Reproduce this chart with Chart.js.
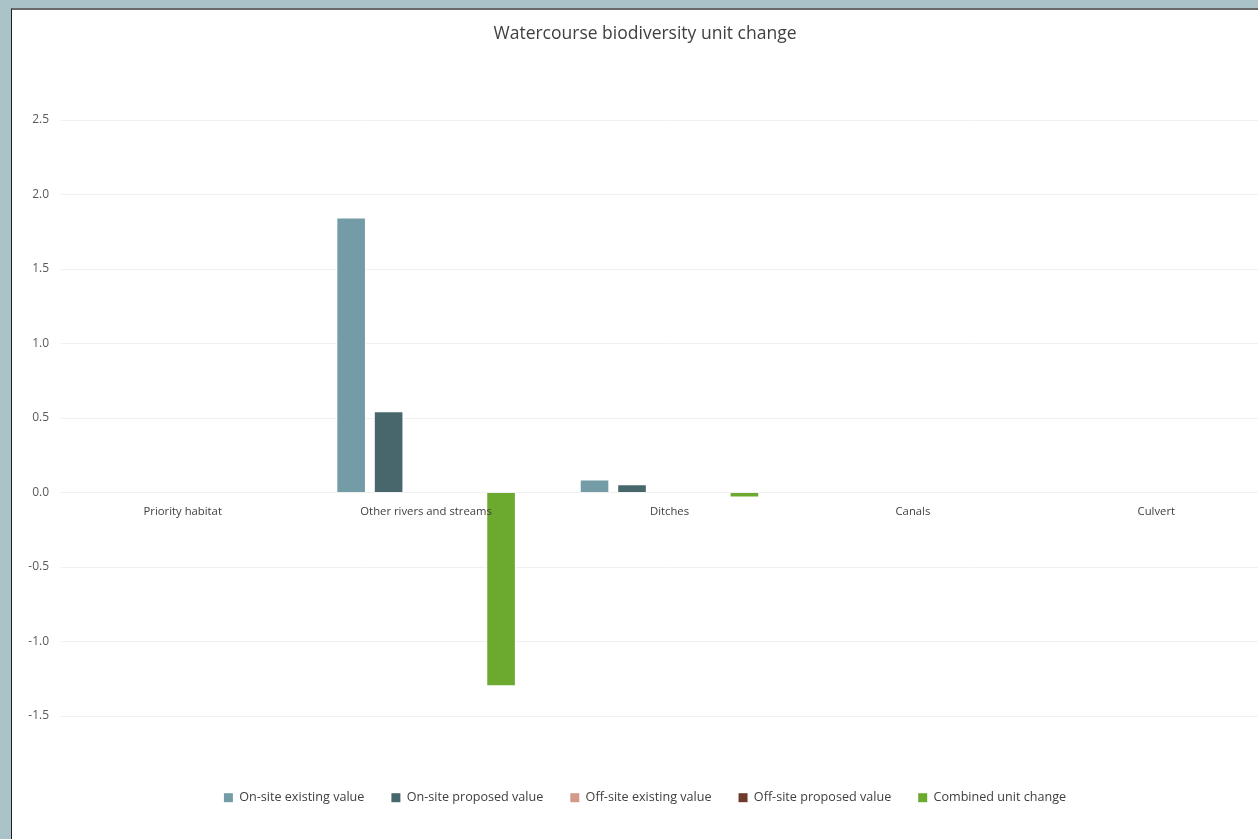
<!DOCTYPE html>
<html>
<head>
<meta charset="utf-8">
<script src="https://cdn.jsdelivr.net/npm/chart.js@4/dist/chart.umd.min.js"></script>
<style>
  html, body { margin: 0; padding: 0; overflow: hidden; background: #a9c3c9; width: 1258px; height: 839px; }
  #panel {
    position: absolute; left: 11px; top: 8px;
    width: 1300px; height: 860px;
    background: #fff;
    border-left: 1px solid #1e1e1e;
    border-top: 2px solid #6a6a6a;
  }
  #wrap { position: absolute; left: 0; top: 2px; width: 1274px; height: 828px; }
</style>
</head>
<body>
<div id="panel"><div id="wrap"><canvas id="chart"></canvas></div></div>
<script>
// Categories and series
const categories = ["Priority habitat", "Other rivers and streams", "Ditches", "Canals", "Culvert"];
const onsiteExisting = [0, 1.845, 0.088, 0, 0];
const onsiteProposed = [0, 0.545, 0.055, 0, 0];
const offsiteExisting = [0, 0, 0, 0, 0];
const offsiteProposed = [0, 0, 0, 0, 0];
const combinedChange = [0, -1.30, -0.033, 0, 0];
const yTicks = [-1.5, -1.0, -0.5, 0, 0.5, 1.0, 1.5, 2.0, 2.5];

const font = "'Open Sans', 'DejaVu Sans', sans-serif";

const makeSet = (label, data, color) => ({
    label: label,
    data: data,
    backgroundColor: color,
    borderColor: "rgba(255,255,255,0.7)",
    borderWidth: (ctx) => (ctx.raw === 0 ? 0 : 1),
    categoryPercentage: 0.77,
    barPercentage: 0.79,
});

const ctx = document.getElementById("chart");
new Chart(ctx, {
    type: "bar",
    data: {
        labels: categories,
        datasets: [
            makeSet("On-site existing value", onsiteExisting, "#739ca6"),
            makeSet("On-site proposed value", onsiteProposed, "#48676d"),
            makeSet("Off-site existing value", offsiteExisting, "#d4998a"),
            makeSet("Off-site proposed value", offsiteProposed, "#6e3a2c"),
            makeSet("Combined unit change", combinedChange, "#6ca92f"),
        ],
    },
    options: {
        responsive: true,
        maintainAspectRatio: false,
        animation: false,
        layout: {
            padding: { left: 0, right: 8, top: 0, bottom: 26 },
        },
        scales: {
            x: {
                position: { y: 0 },
                border: { display: false },
                grid: { display: false, drawTicks: false },
                ticks: {
                    z: 1,
                    padding: 12,
                    color: "#404040",
                    font: { family: font, size: 11.3 },
                    maxRotation: 0,
                    autoSkip: false,
                },
            },
            y: {
                min: -1.5,
                max: 2.5,
                afterBuildTicks: (scale) => {
                    scale.ticks = yTicks.map((v) => ({ value: v }));
                },
                afterFit: (scale) => {
                    scale.width = 49;
                },
                border: { display: false },
                grid: { color: "#f0f0f0", drawTicks: false },
                ticks: {
                    padding: 12,
                    color: "#595959",
                    font: { family: font, size: 12 },
                    callback: (value) => Number(value).toFixed(1),
                },
            },
        },
        plugins: {
            title: {
                display: true,
                text: "Watercourse biodiversity unit change",
                color: "#404040",
                font: { family: font, size: 17.5, weight: "normal" },
                padding: { top: 12, bottom: 75 },
            },
            legend: {
                position: "bottom",
                title: {
                    display: true,
                    text: " ",
                    font: { family: font, size: 12 },
                    padding: { top: 34, bottom: 0 },
                },
                labels: {
                    boxWidth: 9,
                    boxHeight: 9,
                    padding: 27,
                    color: "#404040",
                    font: { family: font, size: 12.6 },
                },
            },
            tooltip: { enabled: false },
        },
    },
});
</script>
</body>
</html>
